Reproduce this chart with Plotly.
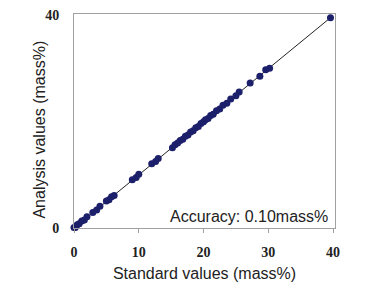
import plotly.graph_objects as go

standard = [0, 0.2, 0.5, 0.8, 1.2, 1.6, 2.0, 2.9, 3.5, 4.0, 5.0, 5.4, 5.8, 6.2, 9.0, 9.6, 10.0,
            12.0, 12.6, 13.0, 15.2, 15.6, 16.0, 16.4, 16.8, 17.2, 17.6, 18.0, 18.4, 18.8,
            19.2, 19.6, 20.0, 20.3, 20.7, 21.1, 21.5, 22.0, 22.5, 23.0, 23.6, 24.2, 25.0,
            25.5, 27.2, 28.7, 29.6, 30.2, 39.6]
analysis = [0.1, 0.1, 0.6, 0.8, 1.3, 1.5, 2.1, 2.9, 3.4, 4.1, 5.1, 5.3, 5.9, 6.1, 9.1, 9.5, 10.1,
            12.1, 12.5, 13.1, 15.1, 15.7, 16.0, 16.5, 16.7, 17.3, 17.5, 18.1, 18.3, 18.9,
            19.1, 19.7, 20.0, 20.4, 20.6, 21.2, 21.4, 22.1, 22.4, 23.1, 23.5, 24.3, 24.9,
            25.6, 27.3, 28.6, 29.8, 30.1, 39.6]
line_x = [0, 40]
line_y = [0, 40]
x_ticks = [0, 10, 20, 30, 40]
y_ticks = [0, 40]

fig = go.Figure()
fig.add_trace(go.Scatter(x=line_x, y=line_y, mode="lines",
                         line=dict(color="#222222", width=1), hoverinfo="skip"))
fig.add_trace(go.Scatter(x=standard, y=analysis, mode="markers",
                         marker=dict(color="#1c1f6a", size=7, line=dict(width=0)),
                         cliponaxis=False))

fig.add_annotation(x=1, y=0, xref="paper", yref="paper", xanchor="right", yanchor="bottom",
                   xshift=-5, yshift=1, text="Accuracy: 0.10mass%", showarrow=False,
                   font=dict(family="Liberation Sans, Arial", size=16, color="#222222"))
fig.add_annotation(x=0, y=0.46, xref="paper", yref="paper", xanchor="center", yanchor="middle",
                   xshift=-34, textangle=-90, text="Analysis values (mass%)", showarrow=False,
                   font=dict(family="Liberation Sans, Arial", size=16, color="#222222"))

fig.update_layout(
    width=366, height=294,
    margin=dict(l=74, r=31, t=9, b=66),
    paper_bgcolor="white", plot_bgcolor="white",
    showlegend=False,
    xaxis=dict(range=[0, 40.3], tickvals=x_ticks, ticks="outside", ticklen=4,
               tickcolor="#a0a0a0", showgrid=False, zeroline=False,
               showline=True, linecolor="#a0a0a0", linewidth=1, mirror=True,
               ticklabelstandoff=7,
               tickfont=dict(family="Liberation Serif, Times New Roman", size=14,
                             color="#222222", weight="bold"),
               title=dict(text="Standard values (mass%)", standoff=9,
                          font=dict(family="Liberation Sans, Arial", size=16, color="#222222"))),
    yaxis=dict(range=[0, 40.3], tickvals=y_ticks, ticks="", showgrid=False, zeroline=False,
               showline=True, linecolor="#a0a0a0", linewidth=1, mirror=True,
               ticklabelstandoff=11,
               tickfont=dict(family="Liberation Serif, Times New Roman", size=14,
                             color="#222222", weight="bold")),
)
fig.write_html("out.html")
